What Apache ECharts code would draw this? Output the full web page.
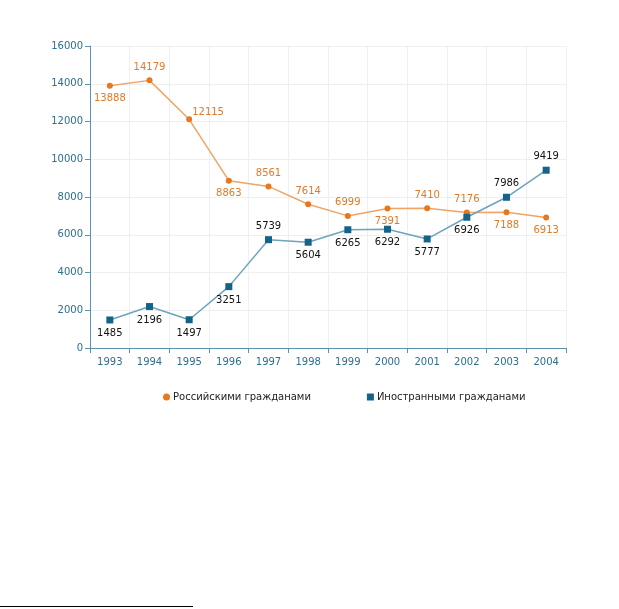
<!DOCTYPE html>
<html><head><meta charset="utf-8">
<script src="https://cdn.jsdelivr.net/npm/echarts@6/dist/echarts.min.js"></script>
<style>html,body{margin:0;padding:0;background:#fff}#c{width:619px;height:609px}</style>
</head><body><div id="c"></div>
<script>
const years = ['1993','1994','1995','1996','1997','1998','1999','2000','2001','2002','2003','2004'];
const russian = [13888,14179,12115,8863,8561,7614,6999,7391,7410,7176,7188,6913];
const foreign = [1485,2196,1497,3251,5739,5604,6265,6292,5777,6926,7986,9419];
const russianLabelPos = ['bottom','top','right','bottom','top','top','top','bottom','top','top','bottom','bottom'];
const foreignLabelPos = ['bottom','bottom','bottom','bottom','top','bottom','bottom','bottom','bottom','bottom','top','top'];
const seriesNames = ['Российскими гражданами','Иностранными гражданами'];

const font = 'DejaVu Sans';
function mk(vals, pos, extra) {
  return vals.map((v,i)=>{
    const o = {value:v, label:{position:pos[i]}};
    if (extra && extra[i]) Object.assign(o.label, extra[i]);
    return o;
  });
}
const chart = echarts.init(document.getElementById('c'), null, {renderer:'canvas'});
chart.setOption({
  animation:false,
  backgroundColor:'#fff',
  grid:{left:90,right:53,top:46,bottom:261},
  legend:{
    top:387,left:158,itemGap:56,itemWidth:7,itemHeight:7,
    textStyle:{fontFamily:font,fontSize:10,color:'#222',padding:[0,0,0,-2]},
    data:[{name:seriesNames[0],icon:'circle',itemStyle:{borderWidth:0}},{name:seriesNames[1],icon:'rect'}]
  },
  xAxis:{
    type:'category',data:years,boundaryGap:true,
    axisLine:{lineStyle:{color:'#5a93ae',width:1}},
    axisTick:{show:true,length:5,lineStyle:{color:'#5a93ae'}},
    axisLabel:{fontFamily:font,fontSize:10,color:'#2d6f8f',margin:9},
    splitLine:{show:true,lineStyle:{color:'#efefef'}}
  },
  yAxis:{
    type:'value',min:0,max:16000,interval:2000,
    axisLine:{show:true,lineStyle:{color:'#5a93ae'}},
    axisTick:{show:true,length:5,lineStyle:{color:'#5a93ae'}},
    axisLabel:{fontFamily:font,fontSize:10,color:'#2d6f8f',margin:7,formatter:v=>String(v)},
    splitLine:{show:true,lineStyle:{color:'#efefef'}}
  },
  series:[
    {name:seriesNames[0],type:'line',symbol:'circle',symbolSize:6,
     itemStyle:{color:'#e8781e'},lineStyle:{color:'#f0a465',width:1.5},
     label:{show:true,fontFamily:font,fontSize:10,color:'#e07a28',distance:5},
     data:mk(russian,russianLabelPos,{2:{position:'right',offset:[-5,-7]}})},
    {name:seriesNames[1],type:'line',symbol:'rect',symbolSize:7,
     itemStyle:{color:'#14648a'},lineStyle:{color:'#6da3bd',width:1.5},
     label:{show:true,fontFamily:font,fontSize:10,color:'#111',distance:5},
     data:mk(foreign,foreignLabelPos)}
  ],
  graphic:[{type:'line',shape:{x1:0,y1:606.5,x2:193,y2:606.5},style:{stroke:'#000',lineWidth:1}}]
});
</script></body></html>
